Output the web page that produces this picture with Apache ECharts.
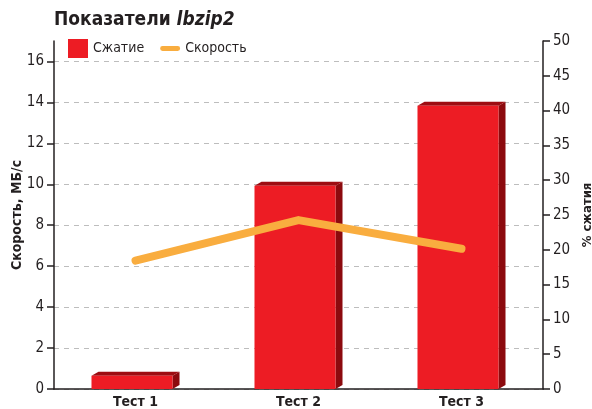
<!DOCTYPE html>
<html>
<head>
<meta charset="utf-8">
<script src="https://cdn.jsdelivr.net/npm/echarts@6/dist/echarts.min.js"></script>
<style>
  html, body { margin: 0; background: #fff; }
  #chart { width: 592px; height: 409px; }
</style>
</head>
<body>
<div id="chart"></div>
<script>
// данные графика
const categories = ['Тест 1', 'Тест 2', 'Тест 3'];
const compression = [1.9, 29.2, 40.7];   // % сжатия (правая ось)
const speed = [6.27, 8.25, 6.85];        // МБ/с (левая ось)
const leftTicks = [0, 2, 4, 6, 8, 10, 12, 14, 16];

const FONT = '"DejaVu Sans Condensed", "Liberation Sans Narrow", Roboto, sans-serif';
const TEXT = '#231f20';

// объемный столбик: передняя грань, верх и бок
function renderBar3d(params, api) {
  const idx = api.value(0);
  const top = api.coord([idx, api.value(1)]);
  const base = api.coord([idx, 0]);
  const band = api.size([1, 0])[0];
  const total = band * 0.54;
  const dx = 7, dy = 4;
  const x0 = top[0] - total / 2;
  const x1 = x0 + total - dx;
  return {
    type: 'group',
    children: [
      {
        type: 'polygon',
        shape: { points: [[x1, top[1]], [x1 + dx, top[1] - dy], [x1 + dx, base[1] - dy], [x1, base[1]]] },
        style: { fill: '#8c0a0e' }
      },
      {
        type: 'polygon',
        shape: { points: [[x0, top[1]], [x0 + dx, top[1] - dy], [x1 + dx, top[1] - dy], [x1, top[1]]] },
        style: { fill: '#9e0d12' }
      },
      {
        type: 'rect',
        shape: { x: x0, y: top[1], width: x1 - x0, height: base[1] - top[1] },
        style: { fill: '#ed1c24' }
      }
    ]
  };
}

const chart = echarts.init(document.getElementById('chart'), null, { renderer: 'canvas' });

const option = {
  animation: false,
  title: {
    text: 'Показатели {i|lbzip2}',
    left: 49,
    top: 6,
    textStyle: {
      fontFamily: FONT,
      fontSize: 19,
      fontWeight: 'bold',
      color: TEXT,
      rich: {
        i: { fontFamily: FONT, fontSize: 19, fontWeight: 'bold', fontStyle: 'italic', color: TEXT }
      }
    }
  },
  legend: {
    left: 68,
    top: 39,
    padding: 0,
    itemWidth: 20,
    itemHeight: 19,
    itemGap: 16,
    textStyle: { fontFamily: FONT, fontSize: 14, color: TEXT },
    data: [
      { name: 'Сжатие', icon: 'rect' },
      { name: 'Скорость', icon: 'path://M2.5,8 L18.5,8 A2.5,2.5 0 0 1 18.5,13 L2.5,13 A2.5,2.5 0 0 1 2.5,8 Z' }
    ]
  },
  grid: { left: 54, right: 49, top: 41, bottom: 20, outerBoundsMode: 'none' },
  xAxis: {
    type: 'category',
    data: categories,
    axisLine: { lineStyle: { color: TEXT, width: 1.5 } },
    axisTick: { show: false },
    axisLabel: { fontFamily: FONT, fontSize: 14, fontWeight: 'bold', color: TEXT, margin: 6 }
  },
  yAxis: [
    {
      type: 'value',
      min: 0,
      max: 17,
      interval: 1,
      name: 'Скорость, МБ/с',
      nameLocation: 'middle',
      nameRotate: 90,
      nameGap: 30,
      nameMoveOverlap: false,
      nameTextStyle: { fontFamily: FONT, fontSize: 14, fontWeight: 'bold', color: TEXT },
      axisLine: { show: true, lineStyle: { color: TEXT, width: 1.5 } },
      axisTick: { show: true, length: 7, customValues: leftTicks, lineStyle: { color: TEXT, width: 1.5 } },
      axisLabel: { fontFamily: FONT, fontSize: 15, color: TEXT, margin: 10, customValues: leftTicks },
      splitLine: { show: true, lineStyle: { color: '#bdbdbd', type: [5, 5], width: 1 } }
    },
    {
      type: 'value',
      min: 0,
      max: 50,
      interval: 5,
      position: 'right',
      name: '% сжатия',
      nameLocation: 'middle',
      nameRotate: 90,
      nameGap: 35,
      nameTextStyle: { fontFamily: FONT, fontSize: 13, fontWeight: 'bold', color: TEXT },
      axisLine: { show: true, lineStyle: { color: TEXT, width: 1.5 } },
      axisTick: { show: true, length: 7, lineStyle: { color: TEXT, width: 1.5 } },
      axisLabel: { fontFamily: FONT, fontSize: 15, color: TEXT, margin: 10 },
      splitLine: { show: false }
    }
  ],
  series: [
    {
      name: 'Сжатие',
      type: 'custom',
      yAxisIndex: 1,
      itemStyle: { color: '#ed1c24' },
      renderItem: renderBar3d,
      data: compression.map((v, i) => [i, v]),
      z: 2
    },
    {
      name: 'Скорость',
      type: 'line',
      yAxisIndex: 0,
      data: speed,
      symbol: 'none',
      color: '#f9ad3f',
      lineStyle: { color: '#f9ad3f', width: 8, cap: 'round', join: 'round' },
      z: 3
    }
  ]
};

chart.setOption(option);
</script>
</body>
</html>
